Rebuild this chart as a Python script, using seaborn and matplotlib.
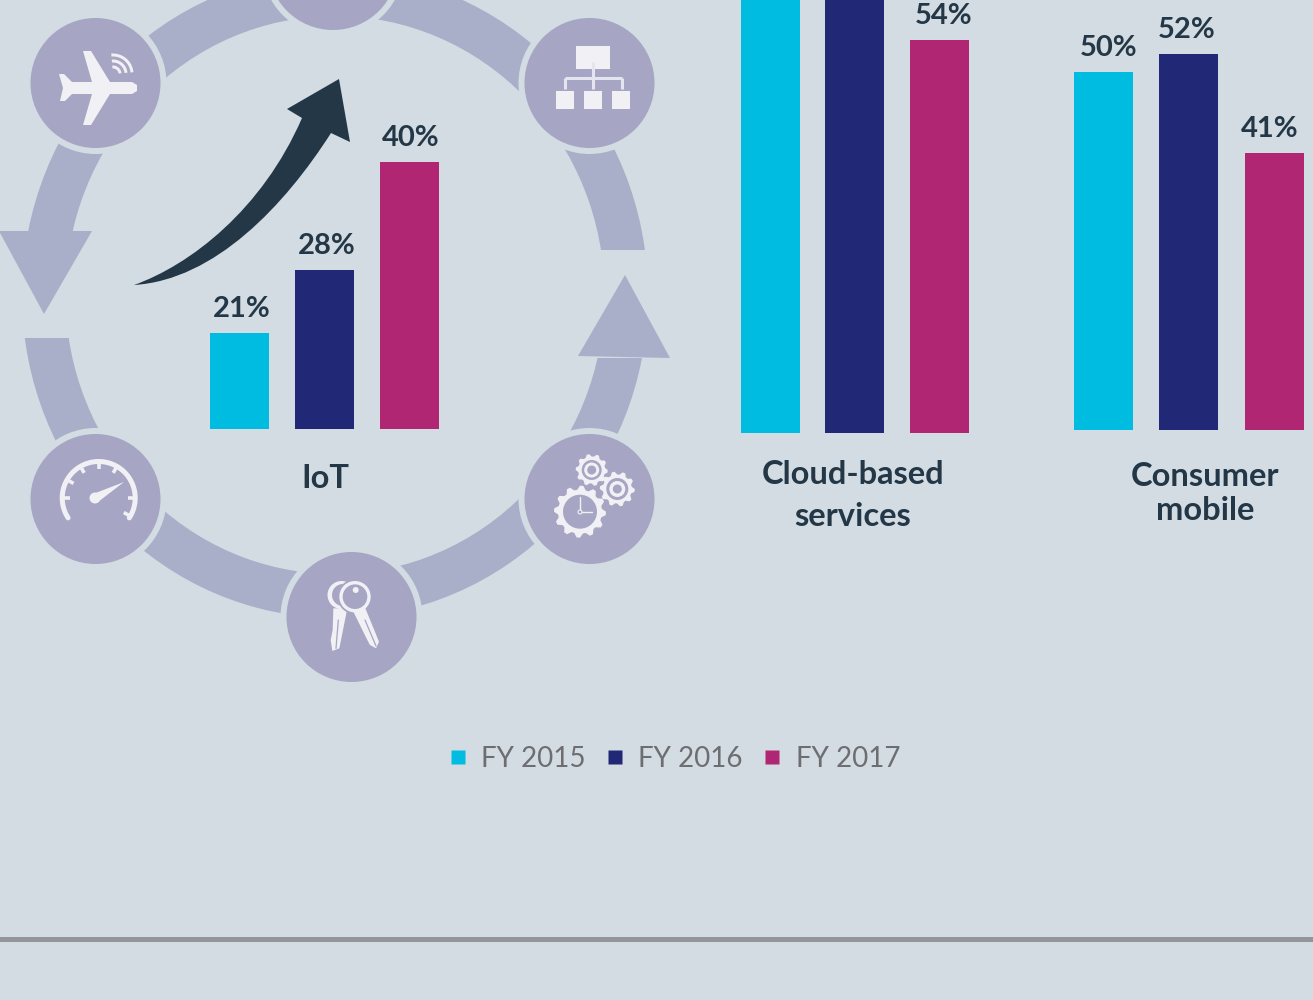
import numpy as np
import pandas as pd
import matplotlib
matplotlib.use('Agg')
import matplotlib.pyplot as plt
import seaborn as sns
from matplotlib.lines import Line2D
from matplotlib.patches import Circle, Ellipse, Polygon, Rectangle, PathPatch
from matplotlib.path import Path

# data
years = ['FY 2015', 'FY 2016', 'FY 2017']
iot_values = [21, 28, 40]
cloud_values = [64, 67, 54]  # first two run off the top of the picture
mobile_values = [50, 52, 41]
iot_labels = ['21%', '28%', '40%']
cloud_labels = ['', '', '54%']
mobile_labels = ['50%', '52%', '41%']

# colours
BG = '#d3dbe3'
RING = '#a9afc9'
DISC = '#a7a5c4'
ICON = '#f0f0f5'
DARK = '#233746'
bar_colors = ['#00bce1', '#212875', '#b02672']

W, H = 1313, 1000

sns.set_theme(style='white')
plt.rcParams['font.family'] = ['Lato', 'DejaVu Sans']

fig = plt.figure(figsize=(W / 100, H / 100), dpi=100, facecolor=BG)

# overlay in picture pixels for the decoration
bg = fig.add_axes([0, 0, 1, 1], zorder=0)
bg.set_xlim(0, W)
bg.set_ylim(H, 0)
bg.axis('off')


def arc(cx, cy, r, a0, a1, lw, color=ICON, cap='butt', z=6):
    t = np.radians(np.linspace(a0, a1, 60))
    bg.plot(cx + r * np.cos(t), cy - r * np.sin(t), color=color, lw=lw * 0.72,
            solid_capstyle=cap, zorder=z)


def gear(cx, cy, r_out, r_in, teeth, holes):
    n = teeth * 4
    t = np.arange(n) * 2 * np.pi / n
    r = np.where(np.isin(np.arange(n) % 4, [0, 1]), r_out, r_in)
    bg.add_patch(Polygon(np.c_[cx + r * np.cos(t), cy + r * np.sin(t)], fc=ICON, ec='none', zorder=6))
    for i, hr in enumerate(holes):
        bg.add_patch(Circle((cx, cy), hr, fc=DISC if i % 2 == 0 else ICON, ec='none', zorder=7 + i))


def zoomed(points, ox, oy):
    return [(ox + x / 3, oy + y / 3) for x, y in points]


# ring (slightly taller than wide) with its two gaps and arrow heads
bg.add_patch(Ellipse((335, 295), 2 * 313, 2 * 323, fc=RING, ec='none', zorder=1))
bg.add_patch(Ellipse((335, 295), 2 * 269.5, 2 * 279, fc=BG, ec='none', zorder=1.5))
bg.add_patch(Rectangle((0, 231), 85, 107, fc=BG, ec='none', zorder=2))
bg.add_patch(Rectangle((585, 250), 85, 108, fc=BG, ec='none', zorder=2))
bg.add_patch(Polygon([(-1, 231), (92, 231), (44, 314)], fc=RING, ec='none', zorder=3))
bg.add_patch(Polygon([(578, 356), (670, 358), (625, 275)], fc=RING, ec='none', zorder=3))

discs = [(333, -35), (95.5, 83), (589.5, 83), (95.5, 499), (589.5, 499), (351.5, 617)]
for c in discs:
    bg.add_patch(Circle(c, 71, fc=BG, ec='none', zorder=4))
    bg.add_patch(Circle(c, 65, fc=DISC, ec='none', zorder=5))

# plane
bg.add_patch(Polygon([(59, 74), (64, 74), (72, 82), (132, 82), (137, 85), (137, 91), (132, 94),
                      (72, 94), (65, 101), (60, 101), (63, 88)], fc=ICON, ec='none', zorder=6))
bg.add_patch(Polygon([(83, 51), (91, 51), (110, 82), (92, 82)], fc=ICON, ec='none', zorder=6))
bg.add_patch(Polygon([(92, 94), (110, 94), (91, 125), (83, 125)], fc=ICON, ec='none', zorder=6))
for r in [7, 13, 19]:
    arc(113, 74, r, 5, 95, 3)

# org chart
bg.add_patch(Rectangle((575.7, 46), 34.3, 23, fc=ICON, ec='none', zorder=6))
for x in [556, 584, 612]:
    bg.add_patch(Rectangle((x, 91), 18, 18, fc=ICON, ec='none', zorder=6))
for xs, ys in [([592.5, 592.5], [62, 89]), ([565, 622], [78, 78]), ([565, 565], [78, 89]), ([622, 622], [78, 89])]:
    bg.plot(xs, ys, color='#e4e5ef', lw=2.2, zorder=7, solid_capstyle='butt')

# gears
gear(580, 511.7, 26, 22, 12, [17])
bg.plot([580, 580], [497, 511], color=ICON, lw=1, zorder=9)
bg.plot([580, 592], [512, 512], color=ICON, lw=1, zorder=9)
bg.add_patch(Circle((580, 512), 2, fc=DISC, ec=ICON, lw=0.8, zorder=9))
gear(617.3, 489, 17.5, 14.5, 10, [11, 8, 4.5])
gear(591.7, 470, 16, 13.5, 10, [10, 7.5, 4.5])

# keys
back = zoomed([(190, 205), (232, 205), (208, 325), (187, 333), (182, 300), (188, 270)], 270, 540)
bg.add_patch(Polygon(back, fc=ICON, ec='none', zorder=6))
bg.add_patch(Circle((341.5, 595), 14, fc=ICON, ec='none', zorder=6))
bg.add_patch(Circle((343, 595), 11, fc=DISC, ec='none', zorder=6))
bg.plot(*zip(*zoomed([(205, 240), (198, 325)], 270, 540)), color=DISC, lw=0.9, zorder=7)
bg.add_patch(Circle((355, 596.7), 17.5, fc=DISC, ec='none', zorder=6.5))
bg.add_patch(Circle((355, 596.7), 15.7, fc=ICON, ec='none', zorder=7))
bg.add_patch(Circle((355, 596.7), 12.3, fc=DISC, ec='none', zorder=8))
bg.add_patch(Circle((355.7, 590), 3, fc=ICON, ec='none', zorder=9))
front = zoomed([(245, 205), (282, 195), (327, 305), (318, 325), (300, 315), (292, 300)], 270, 540)
bg.add_patch(Polygon(front, fc=ICON, ec='none', zorder=7))
bg.plot(*zip(*zoomed([(285, 240), (318, 318)], 270, 540)), color=DISC, lw=0.9, zorder=8)

# gauge
arc(98.7, 498, 36.5, -33, 213, 5, cap='round')
for a in [180, 150, 120, 90, 60, 0, -30]:
    t = np.radians(a)
    bg.plot([98.7 + 36 * np.cos(t), 98.7 + 29 * np.cos(t)], [498 - 36 * np.sin(t), 498 - 29 * np.sin(t)],
            color=ICON, lw=2.6, zorder=6, solid_capstyle='butt')
bg.add_patch(Circle((95, 498), 5.5, fc=ICON, ec='none', zorder=6))
bg.add_patch(Polygon([(93, 494), (124, 482), (98, 502)], fc=ICON, ec='none', zorder=6))

# big dark arrow
arrow_verts = [(134, 285), (190, 265), (262, 210), (302, 118), (287, 109), (339, 79), (350, 142),
               (331, 133), (285, 205), (215, 280), (134, 285)]
arrow_codes = [Path.MOVETO, Path.CURVE4, Path.CURVE4, Path.CURVE4, Path.LINETO, Path.LINETO, Path.LINETO,
               Path.LINETO, Path.CURVE4, Path.CURVE4, Path.CURVE4]
bg.add_patch(PathPatch(Path(arrow_verts, arrow_codes), fc=DARK, ec='none', zorder=6))

# bottom rule
bg.add_patch(Rectangle((0, 937), W, 5, fc='#939598', ec='none', zorder=1))

# bars: 9 px per percent, axis starts near 10.3%
PX_PER_PCT = 9.0
groups = [
    (iot_values, iot_labels, 197, 255, 429, 10.33, [2.5, 2.5, 1.5]),
    (cloud_values, cloud_labels, 727.9, 253.5, 433, 10.33, [0, 0, 4.5]),
    (mobile_values, mobile_labels, 1060.9, 256, 430, 10.22, [5.5, -2.5, -4.5]),
]
for values, labels, left, width, base, y0, shifts in groups:
    df = pd.DataFrame({'year': years, 'share': values})
    ax = fig.add_axes([left / W, 1 - base / H, width / W, base / H], zorder=2)
    ax.patch.set_alpha(0)
    sns.barplot(data=df, x='year', y='share', hue='year', palette=bar_colors, saturation=1,
                width=59 / (width / 3), dodge=False, legend=False, linewidth=0, ax=ax)
    ax.set_xlim(-0.5, 2.5)
    ax.set_ylim(y0, y0 + base / PX_PER_PCT)
    ax.axis('off')
    for cont, lab, dx in zip(ax.containers, labels, shifts):
        for t in ax.bar_label(cont, labels=[lab], padding=8, fontsize=21, fontweight='bold', color=DARK):
            t.xyann = (dx * 0.72, 8)

# category names
for x, y, s in [(325, 478, 'IoT'), (853, 475, 'Cloud-based'), (853, 516, 'services'),
                (1205, 476, 'Consumer'), (1205, 510, 'mobile')]:
    bg.text(x, y, s, ha='center', va='center', fontsize=23.5, fontweight='bold', color=DARK, zorder=6)

# legend
handles = [Line2D([], [], marker='s', ls='none', ms=9.4, mfc=c, mec='none') for c in bar_colors]
bg.legend(handles, years, loc='center', bbox_to_anchor=(672 / W, 1 - 759 / H), ncol=3, frameon=False,
          fontsize=20, labelcolor='#6d6e71', handlelength=1, handletextpad=0.35, columnspacing=0.55)

plt.savefig('out.png', dpi=100, facecolor=BG)
